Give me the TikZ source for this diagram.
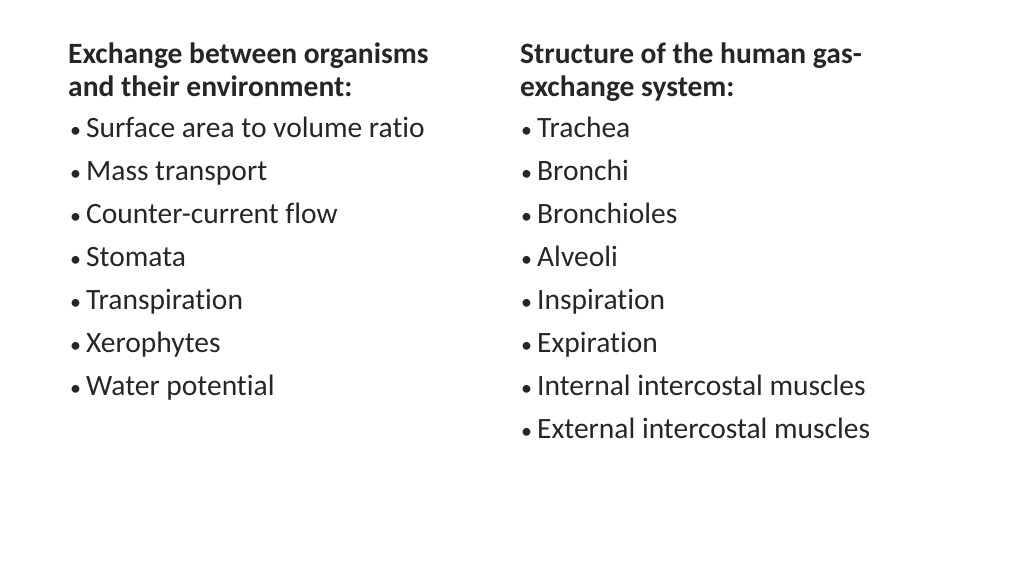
\documentclass[tikz,border=0pt]{standalone}
\usepackage{fontspec}
\setmainfont{Carlito}[RawFeature={-liga;-clig;-dlig}]
\begin{document}
\begin{tikzpicture}[x=1pt,y=-1pt,
  txt/.style={anchor=base west,inner sep=0pt,font=\fontsize{29.5}{32}\selectfont,text=black!85},
  head/.style={txt,font=\fontsize{29.5}{32}\selectfont\bfseries}]
\useasboundingbox (0,0) rectangle (1024,576);
\node[head] (l1) at (68,63) {Exchange between organisms};
\node[head] (l2) at (68,96) {and their environment:};
\node[head] (r1) at (520,63) {Structure of the human gas-};
\node[head] (r2) at (520,96) {exchange system:};
\foreach \t [count=\i] in {Surface area to volume ratio,Mass transport,Counter-current flow,Stomata,Transpiration,Xerophytes,Water potential}{
  \node[txt] (lb\i) at (70,{137+43*(\i-1)}) {{\fontsize{22}{24}\selectfont•}\hspace{5pt}\t};
}
\foreach \t [count=\i] in {Trachea,Bronchi,Bronchioles,Alveoli,Inspiration,Expiration,Internal intercostal muscles,External intercostal muscles}{
  \node[txt] (rb\i) at (521,{137+43*(\i-1)}) {{\fontsize{22}{24}\selectfont•}\hspace{5pt}\t};
}
\end{tikzpicture}
\end{document}
